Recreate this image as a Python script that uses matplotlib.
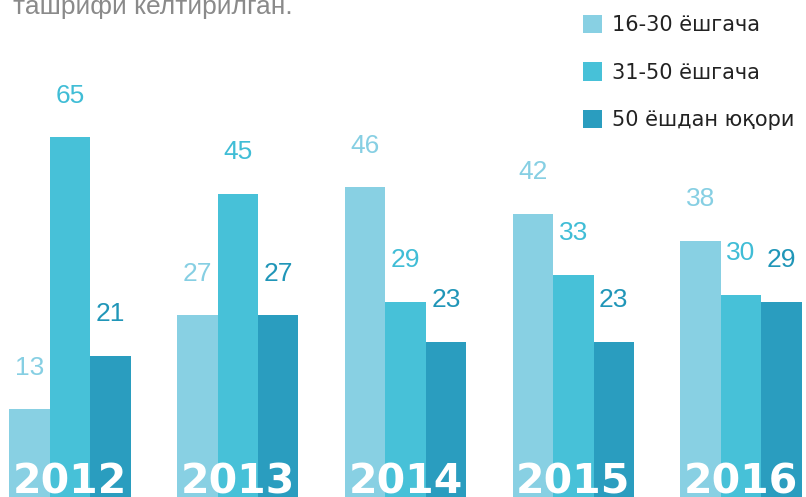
import numpy as np
import matplotlib.pyplot as plt

plt.rcParams['font.family'] = ['Liberation Sans', 'DejaVu Sans']

years = ['2012', '2013', '2014', '2015', '2016']
age_16_30 = [13, 27, 46, 42, 38]
age_31_50 = [65, 45, 29, 33, 30]
age_50_up = [21, 27, 23, 23, 29]
labels = ['16-30 ёшгача', '31-50 ёшгача', '50 ёшдан юқори']

bar_cols = ['#88d0e3', '#47c1d8', '#2a9dbf']
txt_cols = ['#86cfe3', '#40bdd6', '#2096b8']

# the original graphic squeezes the tallest bar, so the axis is compressed above 46
CUT, SQUEEZE = 46.0, 0.39


def fwd(v):
    v = np.asarray(v, dtype=float)
    return np.where(v <= CUT, v, CUT + (v - CUT) * SQUEEZE)


def inv(v):
    v = np.asarray(v, dtype=float)
    return np.where(v <= CUT, v, CUT + (v - CUT) / SQUEEZE)


fig = plt.figure(figsize=(8.06, 4.97), dpi=100)
ax = fig.add_axes([0, 0, 1, 1])

x = np.arange(len(years))
w = 0.241
handles = []
for i, vals in enumerate([age_16_30, age_31_50, age_50_up]):
    pos = x + (i - 1) * w
    b = ax.bar(pos, vals, width=w, color=bar_cols[i], label=labels[i])
    handles.append(b)
    for xp, v in zip(pos, vals):
        ax.annotate(str(v), (xp, v), xytext=(0, 30), textcoords='offset points',
                    ha='center', va='center', fontsize=19, color=txt_cols[i])

# year labels over the bars
for xp, yr in zip(x, years):
    ax.annotate(yr, (xp, 0), xytext=(0, 2.2), textcoords='offset points',
                ha='center', va='baseline', fontsize=29.5, fontweight='bold',
                family='DejaVu Sans', color='white')

ax.set_yscale('function', functions=(fwd, inv))
ax.set_xlim(-0.417, 4.387)
ax.set_ylim(0, float(inv(73.8)))
ax.axis('off')

leg = ax.legend(handles=handles, loc='upper left', bbox_to_anchor=(0.705, 1.0),
                frameon=False, prop={'family': 'DejaVu Sans', 'size': 15},
                handlelength=0.92, handleheight=1.0, handletextpad=0.5,
                labelspacing=1.3, borderaxespad=0.3, labelcolor='#222222')

fig.text(0.016, 0.972, 'ташрифи келтирилган.', fontsize=19, color='#8a8a8a',
         ha='left', va='baseline')

fig.savefig('out.png', dpi=100)
